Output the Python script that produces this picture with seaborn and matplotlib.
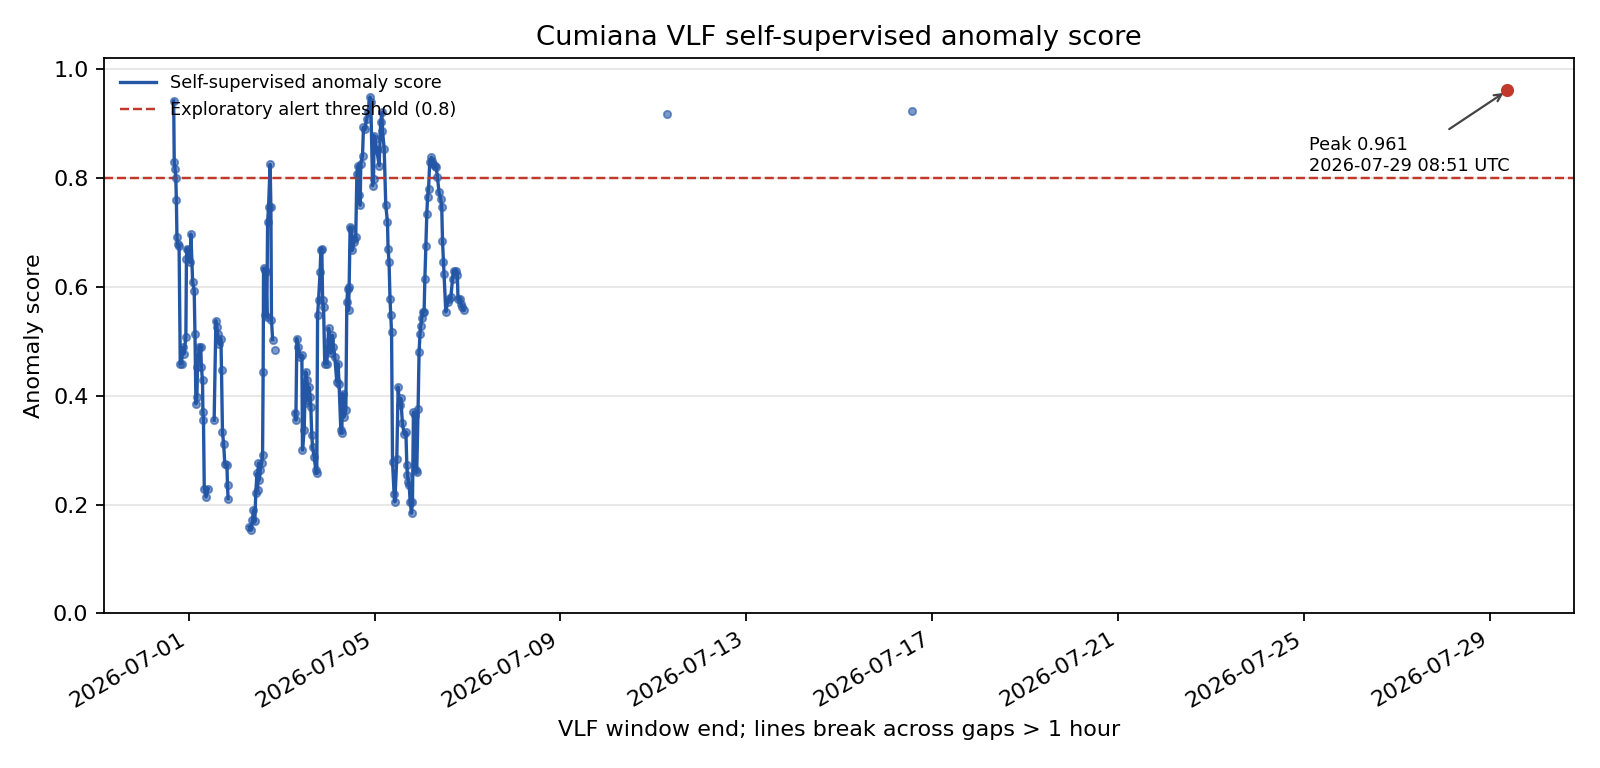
import numpy as np
import pandas as pd
import matplotlib
matplotlib.use("Agg")
import matplotlib.pyplot as plt
import matplotlib.dates as mdates
from matplotlib.lines import Line2D
import seaborn as sns

# ---- data: hours since 2026-06-30 00:00 UTC, anomaly scores, per contiguous segment ----
seg1_hours = [16.3, 16.6, 17.0, 17.4, 17.7, 18.0, 18.3, 19.1, 19.7, 20.4, 20.9, 21.7, 22.6, 22.9,
              23.1, 23.8, 24.8, 25.2, 26.1, 26.9, 27.3, 27.8, 28.3, 28.6, 29.5, 30.3, 30.6, 31.2,
              31.4, 31.7, 32.1, 33.0, 34.1]
seg1_vals = [0.942, 0.829, 0.817, 0.801, 0.760, 0.691, 0.679, 0.676, 0.459, 0.459, 0.489, 0.477,
             0.508, 0.652, 0.670, 0.667, 0.645, 0.697, 0.609, 0.593, 0.514, 0.385, 0.398, 0.453,
             0.490, 0.490, 0.453, 0.428, 0.370, 0.355, 0.229, 0.214, 0.229]

seg2_hours = [37.2, 38.1, 38.6, 39.0, 39.8, 40.7, 41.0, 41.5, 42.1, 42.7, 43.8, 44.1, 44.4]
seg2_vals = [0.355, 0.538, 0.526, 0.514, 0.495, 0.505, 0.447, 0.333, 0.312, 0.275, 0.272, 0.235,
             0.211]

seg3_hours = [55.3, 56.2, 57.0, 57.5, 58.2, 58.7, 59.3, 59.6, 60.1, 60.4, 61.0, 61.7, 62.2, 62.5,
              62.7, 63.4, 63.5, 63.9, 64.4, 64.8, 65.3, 66.1, 66.5, 66.8, 67.4]
seg3_vals = [0.159, 0.153, 0.172, 0.190, 0.169, 0.221, 0.257, 0.227, 0.276, 0.245, 0.263, 0.276,
             0.291, 0.444, 0.634, 0.631, 0.548, 0.628, 0.545, 0.719, 0.747, 0.825, 0.747, 0.539,
             0.503]

seg4_hours = [68.6]
seg4_vals = [0.484]

seg5_hours = [78.9, 79.4, 79.9, 80.6, 81.6, 82.5, 82.8, 83.7, 84.0, 84.5, 85.1, 85.4, 86.2, 86.8,
              87.1, 87.6, 88.0, 88.8, 89.7, 90.2, 90.6, 91.1, 91.9, 92.3, 92.8, 93.2, 93.7, 94.3,
              95.4, 96.3, 97.1, 97.4, 98.3, 98.8, 99.5, 100.5, 101.2, 101.7, 102.6, 103.1, 103.5,
              104.3, 105.2, 105.7, 106.2, 106.6, 106.9, 107.4, 108.1, 108.6, 109.2, 109.5, 110.3,
              110.9, 111.5, 112.0, 112.6, 112.9, 113.8, 114.3, 115.0, 116.0, 116.7, 117.7, 118.1,
              119.0, 119.5, 119.8, 120.3, 121.2, 122.4, 123.2, 123.8, 124.1, 125.0, 125.8, 126.7,
              127.0, 127.5, 128.0, 128.4, 128.8, 129.3, 130.1, 130.5, 131.5, 132.2, 132.9, 133.6,
              134.4, 135.3, 136.2, 136.7, 137.0, 137.5, 137.9, 138.4, 139.1, 139.6, 140.1, 140.8,
              141.3, 141.8, 142.5, 143.0, 143.5, 143.9, 144.4, 144.8, 145.6, 146.0, 146.5, 147.0,
              147.4, 147.9, 148.5, 149.4, 149.9, 150.4, 151.1, 151.8, 152.5, 153.3, 154.2, 154.7,
              155.1, 155.6, 155.9, 156.8, 157.7, 158.5, 159.4, 160.3, 160.8, 162.0, 162.8, 163.1,
              164.2, 164.5, 165.4, 166.2]
seg5_vals = [0.369, 0.355, 0.505, 0.490, 0.471, 0.474, 0.300, 0.337, 0.386, 0.444, 0.429, 0.392,
             0.416, 0.398, 0.380, 0.328, 0.306, 0.288, 0.263, 0.257, 0.548, 0.575, 0.628, 0.667,
             0.670, 0.575, 0.563, 0.459, 0.459, 0.524, 0.502, 0.478, 0.511, 0.490, 0.471, 0.426,
             0.459, 0.422, 0.337, 0.331, 0.404, 0.361, 0.373, 0.572, 0.597, 0.557, 0.600, 0.710,
             0.707, 0.667, 0.682, 0.688, 0.691, 0.808, 0.823, 0.768, 0.750, 0.826, 0.841, 0.893,
             0.890, 0.909, 0.921, 0.949, 0.939, 0.786, 0.798, 0.878, 0.872, 0.851, 0.823, 0.903,
             0.921, 0.887, 0.854, 0.750, 0.719, 0.670, 0.646, 0.578, 0.548, 0.517, 0.278, 0.220,
             0.205, 0.284, 0.416, 0.382, 0.395, 0.349, 0.330, 0.333, 0.272, 0.254, 0.242, 0.236,
             0.205, 0.184, 0.205, 0.370, 0.364, 0.263, 0.260, 0.376, 0.480, 0.514, 0.529, 0.542,
             0.554, 0.554, 0.615, 0.676, 0.734, 0.765, 0.780, 0.829, 0.838, 0.832, 0.826, 0.823,
             0.820, 0.802, 0.774, 0.762, 0.747, 0.685, 0.646, 0.624, 0.554, 0.572, 0.578, 0.581,
             0.615, 0.630, 0.630, 0.621, 0.578, 0.578, 0.569, 0.563, 0.557]

seg6_hours = [271.0]
seg6_vals = [0.918]
seg7_hours = [397.5]
seg7_vals = [0.924]
seg8_hours = [704.85]   # 2026-07-29 08:51 UTC
seg8_vals = [0.961]

threshold = 0.8
peak_label = "Peak 0.961\n2026-07-29 08:51 UTC"
tick_dates = ["2026-07-01", "2026-07-05", "2026-07-09", "2026-07-13",
              "2026-07-17", "2026-07-21", "2026-07-25", "2026-07-29"]
x_range = ["2026-06-29 04:20", "2026-07-30 19:30"]

# ---- build frame ----
base = pd.Timestamp("2026-06-30 00:00")
segments = [(seg1_hours, seg1_vals), (seg2_hours, seg2_vals), (seg3_hours, seg3_vals),
            (seg4_hours, seg4_vals), (seg5_hours, seg5_vals), (seg6_hours, seg6_vals),
            (seg7_hours, seg7_vals), (seg8_hours, seg8_vals)]
rows = []
for i, (h, v) in enumerate(segments):
    for hh, vv in zip(h, v):
        rows.append({"time": base + pd.Timedelta(hours=hh), "score": vv, "seg": i})
df = pd.DataFrame(rows)

peak_idx = df["score"].idxmax()
peak_time = df.loc[peak_idx, "time"]
peak_val = df.loc[peak_idx, "score"]

blue = "#2456a6"
red = "#c0392b"

plt.rcParams["font.family"] = ["DejaVu Sans"]
fig, ax = plt.subplots(figsize=(10, 4.8), dpi=160)
fig.subplots_adjust(left=0.065, right=0.984, bottom=0.2014, top=0.924)

sns.lineplot(data=df, x="time", y="score", units="seg", estimator=None,
             color=blue, lw=1.5, ax=ax, legend=False)
sns.scatterplot(data=df, x="time", y="score", color=blue, s=11, alpha=0.6,
                edgecolor=blue, linewidth=0.8, ax=ax, legend=False, zorder=3)
ax.scatter([peak_time], [peak_val], color=red, s=24, zorder=5)

ax.axhline(threshold, color=red, ls="--", lw=1.1)

ax.annotate(peak_label, xy=(peak_time, peak_val),
            xytext=(pd.Timestamp("2026-07-25 02:40"), 0.806),
            textcoords="data", ha="left", va="bottom", fontsize=8,
            arrowprops=dict(arrowstyle="->", color="#444444", lw=1.0))

ax.set_xlim(pd.Timestamp(x_range[0]), pd.Timestamp(x_range[1]))
ax.set_ylim(0, 1.02)
ax.set_yticks([0.0, 0.2, 0.4, 0.6, 0.8, 1.0])
ax.yaxis.grid(True, color="#e6e6e6", lw=0.8)
ax.xaxis.grid(False)
ax.set_axisbelow(True)

ax.set_xticks([pd.Timestamp(d) for d in tick_dates])
ax.xaxis.set_major_formatter(mdates.DateFormatter("%Y-%m-%d"))
plt.setp(ax.get_xticklabels(), rotation=30, ha="right")

ax.set_title("Cumiana VLF self-supervised anomaly score", fontsize=12.3)
ax.set_ylabel("Anomaly score", fontsize=10)
ax.set_xlabel("VLF window end; lines break across gaps > 1 hour", fontsize=10)

handles = [Line2D([0], [0], color=blue, lw=1.5),
           Line2D([0], [0], color=red, lw=1.1, ls="--")]
ax.legend(handles, ["Self-supervised anomaly score", "Exploratory alert threshold (0.8)"],
          loc="upper left", frameon=False, fontsize=8)

fig.savefig("out.png", dpi=160)
